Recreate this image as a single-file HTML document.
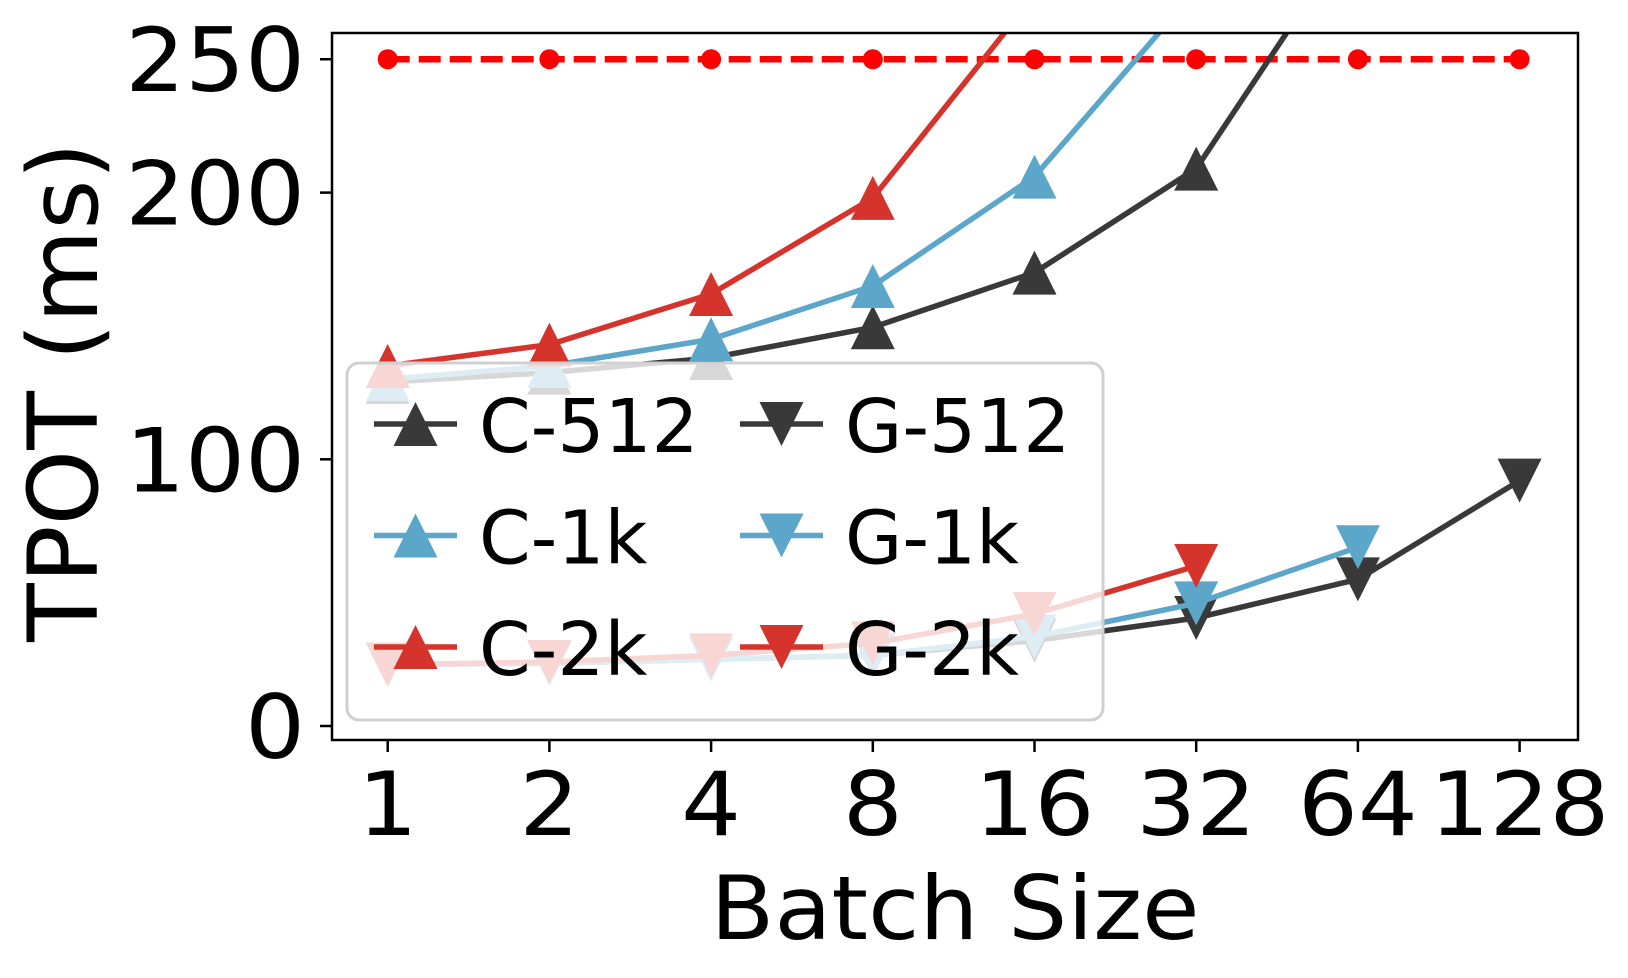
<!DOCTYPE html>
<html><head><meta charset="utf-8"><style>
html,body{margin:0;padding:0;background:#fff;}
svg{display:block;font-family:"DejaVu Sans","Liberation Sans",sans-serif;}
</style></head><body>
<svg id="chart" width="1628" height="978" viewBox="0 0 1628 978" xmlns="http://www.w3.org/2000/svg">
<defs><clipPath id="plotclip"><rect x="332" y="33" width="1246" height="707"/></clipPath></defs>
<g id="series" clip-path="url(#plotclip)"></g>
<g id="legend"></g>
<rect x="332" y="33" width="1246" height="707" fill="none" stroke="#000" stroke-width="2.5"/>
<g id="axes"></g>
<text x="955" y="939" font-size="88" text-anchor="middle" transform="translate(955,0) scale(1.06,1) translate(-955,0)">Batch Size</text>
<text transform="translate(97,392) rotate(-90)" font-size="96" text-anchor="middle">TPOT (ms)</text>
</svg>
<script>
const categories = ["1","2","4","8","16","32","64","128"];
const yTicks = [0,100,200,250];
const slo = [250,250,250,250,250,250,250,250];
const c512 = [129,132.5,138,149.5,170,209,300];
const c1k = [130,135,145,165,206,276];
const c2k = [135,143,162,198,274];
const g512 = [23,23.5,25,26.5,32,40.5,55,92];
const g1k = [23,23.5,25,26.5,33.5,46,67];
const g2k = [23,24,26.5,31,42,60];

const NS="http://www.w3.org/2000/svg";
function X(i){return 387.7+i*161.7;}
function Y(v){return 726-v*2.667;}
function mk(tag,attrs,parent){const e=document.createElementNS(NS,tag);for(const k in attrs)e.setAttribute(k,attrs[k]);parent.appendChild(e);return e;}
const series=document.getElementById('series'),axes=document.getElementById('axes'),legend=document.getElementById('legend');

function tri(cx,cy,up,col,parent,name){
  const s=22;
  const pts=up?`${cx},${cy-s} ${cx-s},${cy+s} ${cx+s},${cy+s}`:`${cx},${cy+s} ${cx-s},${cy-s} ${cx+s},${cy-s}`;
  const p=mk('polygon',{points:pts,fill:col},parent);
  
  
}
function drawLine(vals,col,up,name){
  const g=mk('g',{},series);
  
  
  const pl=mk('polyline',{points:vals.map((v,i)=>X(i)+','+Y(v)).join(' '),fill:'none',stroke:col,'stroke-width':5.5},g);
  
  
  vals.forEach((v,i)=>tri(X(i),Y(v),up,col,g,name+'-marker-'+categories[i]));
}
const sg=mk('g',{},series);


const sl=mk('polyline',{points:slo.map((v,i)=>X(i)+','+Y(v)).join(' '),fill:'none',stroke:'#ff0000','stroke-width':6.5,'stroke-dasharray':'22,9'},sg);


slo.forEach((v,i)=>{const c=mk('circle',{cx:X(i),cy:Y(v),r:10,fill:'#ff0000'},sg);
  
  });

const K='#393939',B='#5ca6c9',R='#d5342c';
drawLine(g512,K,false,'g-512');
drawLine(g1k,B,false,'g-1k');
drawLine(g2k,R,false,'g-2k');
drawLine(c512,K,true,'c-512');
drawLine(c1k,B,true,'c-1k');
drawLine(c2k,R,true,'c-2k');

categories.forEach((c,i)=>{
  const t=mk('line',{x1:X(i),x2:X(i),y1:740,y2:752,stroke:'#000','stroke-width':2.5},axes);
  
  
  const l=mk('text',{x:X(i),y:835,'font-size':88,'text-anchor':'middle',transform:`translate(${X(i)},0) scale(1.07,1) translate(${-X(i)},0)`},axes);
  l.textContent=c;
  
  
});
yTicks.forEach(v=>{
  const t=mk('line',{x1:320,x2:332,y1:Y(v),y2:Y(v),stroke:'#000','stroke-width':2.5},axes);
  
  
  const l=mk('text',{x:305,y:Y(v)+32,'font-size':88,'text-anchor':'end',transform:'translate(305,0) scale(1.07,1) translate(-305,0)'},axes);
  l.textContent=v;
  
  
});

const lb=mk('rect',{x:347,y:363,width:756,height:357,rx:12,fill:'#fff','fill-opacity':0.8,stroke:'#d0d0d0','stroke-width':3},legend);


const entries=[["C-512",K,true,0,0],["C-1k",B,true,0,1],["C-2k",R,true,0,2],["G-512",K,false,1,0],["G-1k",B,false,1,1],["G-2k",R,false,1,2]];
entries.forEach(e=>{
  const x0=e[3]?740:374, y=424+e[4]*111.5;
  const g=mk('g',{},legend);
  
  
  mk('line',{x1:x0,x2:x0+83,y1:y,y2:y,stroke:e[1],'stroke-width':5.5},g);
  tri(x0+41.5,y,e[2],e[1],g,'legend-marker');
  const t=mk('text',{x:x0+105,y:y+28,'font-size':74},g);
  t.textContent=e[0];
  
  
});
</script>
</body></html>
